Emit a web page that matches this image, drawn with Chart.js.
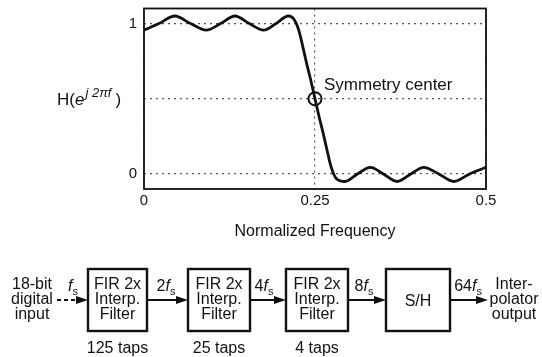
<!DOCTYPE html>
<html>
<head>
<meta charset="utf-8">
<script src="https://cdn.jsdelivr.net/npm/chart.js@4/dist/chart.umd.min.js"></script>
<style>
  html, body { margin: 0; padding: 0; background: #fff; }
  #wrap { position: relative; width: 542px; height: 357px; overflow: hidden; }
  #chart { position: absolute; left: 0; top: 0; }
  #overlay { position: absolute; left: 0; top: 0; pointer-events: none; }
  #overlay text { font-family: "Liberation Sans", Arial, sans-serif; fill: #111; }
</style>
</head>
<body>
<div id="wrap">
  <canvas id="chart" width="542" height="245"></canvas>
  <svg id="overlay" width="542" height="357"></svg>
</div>
<script>
(() => {
  // Frequenzgang
  // ----------------------------------------------------------------------------------------
  const freq = [0, 0.022, 0.045, 0.068, 0.091, 0.112, 0.133, 0.154, 0.175, 0.193, 0.211,
                0.219, 0.226, 0.232, 0.238, 0.244, 0.25, 0.256, 0.262, 0.268, 0.274, 0.281,
                0.294, 0.312, 0.331, 0.350, 0.370, 0.390, 0.409, 0.431, 0.453, 0.476, 0.5];
  const magnitude = [0.956, 1.0, 1.05, 1.0, 0.956, 1.0, 1.05, 1.0, 0.956, 1.0, 1.05,
                     1.03, 0.96, 0.85, 0.73, 0.62, 0.5, 0.38, 0.27, 0.15, 0.04, -0.03,
                     -0.05, 0.0, 0.044, 0.0, -0.05, 0.0, 0.044, 0.0, -0.05, 0.0, 0.044];
  const centerFreq = [0.25];
  const centerMag  = [0.5];
  const centerLabel = 'Symmetry center';

  const xTicks      = [0, 0.25, 0.5];
  const xTickLabels = ['0', '0.25', '0.5'];
  const yTicks      = [0, 0.5, 1];
  const yTickLabels = ['0', '', '1'];
  const xTitle = 'Normalized Frequency';

  // Blockschaltbild
  const inputLines  = ['18-bit', 'digital', 'input'];
  const outputLines = ['Inter-', 'polator', 'output'];
  const stageLines  = [['FIR 2x', 'Interp.', 'Filter'], ['FIR 2x', 'Interp.', 'Filter'],
                       ['FIR 2x', 'Interp.', 'Filter'], ['S/H']];
  const tapLabels   = ['125 taps', '25 taps', '4 taps', ''];
  const rateFactors = ['', '2', '4', '8', '64'];

  const FONT = '"Liberation Sans", Arial, sans-serif';
  const INK  = '#111';
  Chart.defaults.font.family = FONT;
  Chart.defaults.color = INK;

  const toXY = (xs, ys) => xs.map((x, i) => ({ x, y: ys[i] }));

  // Rahmen + Beschriftung
  // ----------------------------------------------------------------------------------------
  const framePlugin = {
    id: 'frame',
    afterDatasetsDraw(chart) {
      const { ctx, chartArea: a, scales } = chart;
      ctx.save();
      ctx.strokeStyle = INK;
      ctx.lineWidth = 1.8;
      ctx.strokeRect(a.left, a.top, a.right - a.left, a.bottom - a.top);
      ctx.font = '17px ' + FONT;
      ctx.fillStyle = INK;
      ctx.textBaseline = 'middle';
      ctx.fillText(centerLabel,
        scales.x.getPixelForValue(centerFreq[0]) + 9,
        scales.y.getPixelForValue(centerMag[0]) - 13);
      ctx.restore();
    }
  };

  new Chart(document.getElementById('chart'), {
    type: 'line',
    data: {
      datasets: [{
        data: toXY(freq, magnitude),
        borderColor: INK,
        borderWidth: 2.8,
        pointRadius: 0,
        cubicInterpolationMode: 'monotone',
        fill: false
      }, {
        data: toXY(centerFreq, centerMag),
        showLine: false,
        pointRadius: 6.5,
        pointBorderWidth: 2,
        pointBorderColor: INK,
        pointBackgroundColor: 'rgba(0,0,0,0)'
      }]
    },
    options: {
      responsive: false,
      devicePixelRatio: 1,
      animation: false,
      layout: { padding: { top: 8, right: 56, left: 0, bottom: 0 } },
      plugins: { legend: { display: false }, tooltip: { enabled: false } },
      scales: {
        x: {
          type: 'linear', min: 0, max: 0.5,
          afterBuildTicks: (s) => { s.ticks = xTicks.map(v => ({ value: v })); },
          afterFit: (s) => { s.height = 56; s.paddingLeft = 0; s.paddingRight = 0; },
          ticks: {
            callback: (v, i) => xTickLabels[i],
            font: { size: 15 }, color: INK, padding: 3, maxRotation: 0, autoSkip: false
          },
          grid: { color: '#555', lineWidth: 1.2, drawTicks: false },
          border: { display: false, dash: [2, 4] },
          title: { display: true, text: xTitle, font: { size: 16 }, color: INK,
                   padding: { top: 0, bottom: 4 } }
        },
        y: {
          type: 'linear', min: -0.1, max: 1.1,
          afterBuildTicks: (s) => { s.ticks = yTicks.map(v => ({ value: v })); },
          afterFit: (s) => { s.width = 144; s.paddingTop = 0; s.paddingBottom = 0; },
          ticks: {
            callback: (v, i) => yTickLabels[i],
            font: { size: 15 }, color: INK, padding: 7, autoSkip: false
          },
          grid: { color: '#555', lineWidth: 1.2, drawTicks: false },
          border: { display: false, dash: [2, 4] }
        }
      }
    },
    plugins: [framePlugin]
  });

  // SVG-Overlay: y-Titel und Blockschaltbild
  // ----------------------------------------------------------------------------------------
  const NS = 'http://www.w3.org/2000/svg';
  const svg = document.getElementById('overlay');
  const el = (tag, attrs, parent = svg) => {
    const n = document.createElementNS(NS, tag);
    for (const k in attrs) n.setAttribute(k, attrs[k]);
    parent.appendChild(n);
    return n;
  };
  const span = (parent, txt, attrs = {}) => {
    const t = el('tspan', attrs, parent);
    t.textContent = txt;
    return t;
  };

  // H(e^{j2πf})
  const yt = el('text', { x: 57, y: 105, 'font-size': 17 });
  span(yt, 'H(');
  span(yt, 'e', { 'font-style': 'italic' });
  span(yt, 'j 2πf', { 'font-style': 'italic', 'font-size': 13, dy: -8, dx: 1 });
  span(yt, ')', { dy: 8, dx: 4 });

  const lineY = 300;
  const rowY  = [283, 298, 313];
  const textBlock = (lines, cx) => lines.forEach((s, i) => {
    const t = el('text', { x: cx, y: rowY[i] + 6, 'font-size': 16, 'text-anchor': 'middle' });
    t.textContent = s;
  });
  const arrow = (x1, x2, dashed) => {
    el('line', { x1, y1: lineY, x2: x2 - 9, y2: lineY, stroke: INK, 'stroke-width': 2,
                 'stroke-dasharray': dashed ? '4 3' : 'none' });
    el('path', { d: `M${x2},${lineY} L${x2 - 12},${lineY - 4} L${x2 - 12},${lineY + 4} Z`, fill: INK });
  };
  const rate = (factor, cx) => {
    const t = el('text', { x: cx, y: 291, 'font-size': 16, 'text-anchor': 'middle' });
    if (factor) span(t, factor);
    span(t, 'f', { 'font-style': 'italic' });
    span(t, 's', { 'font-size': 11, dy: 4 });
  };

  const boxes = [[88, 147], [188, 250], [286, 348], [386, 450]];
  const rateX = [73, 166, 264, 364, 468];

  textBlock(inputLines, 32);
  arrow(57, 88, true);
  boxes.forEach(([l, r], i) => {
    el('rect', { x: l, y: 269, width: r - l, height: 62, fill: 'none', stroke: INK, 'stroke-width': 2.4 });
    const cx = (l + r) / 2;
    if (stageLines[i].length === 1) {
      const t = el('text', { x: cx, y: lineY + 6, 'font-size': 16, 'text-anchor': 'middle' });
      t.textContent = stageLines[i][0];
    } else {
      textBlock(stageLines[i], cx);
    }
    if (tapLabels[i]) {
      const t = el('text', { x: cx, y: 353, 'font-size': 16, 'text-anchor': 'middle' });
      t.textContent = tapLabels[i];
    }
    const next = boxes[i + 1] ? boxes[i + 1][0] : 488;
    arrow(r, next, false);
  });
  rateFactors.forEach((f, i) => rate(f, rateX[i]));
  textBlock(outputLines, 514);
})();
</script>
</body>
</html>
